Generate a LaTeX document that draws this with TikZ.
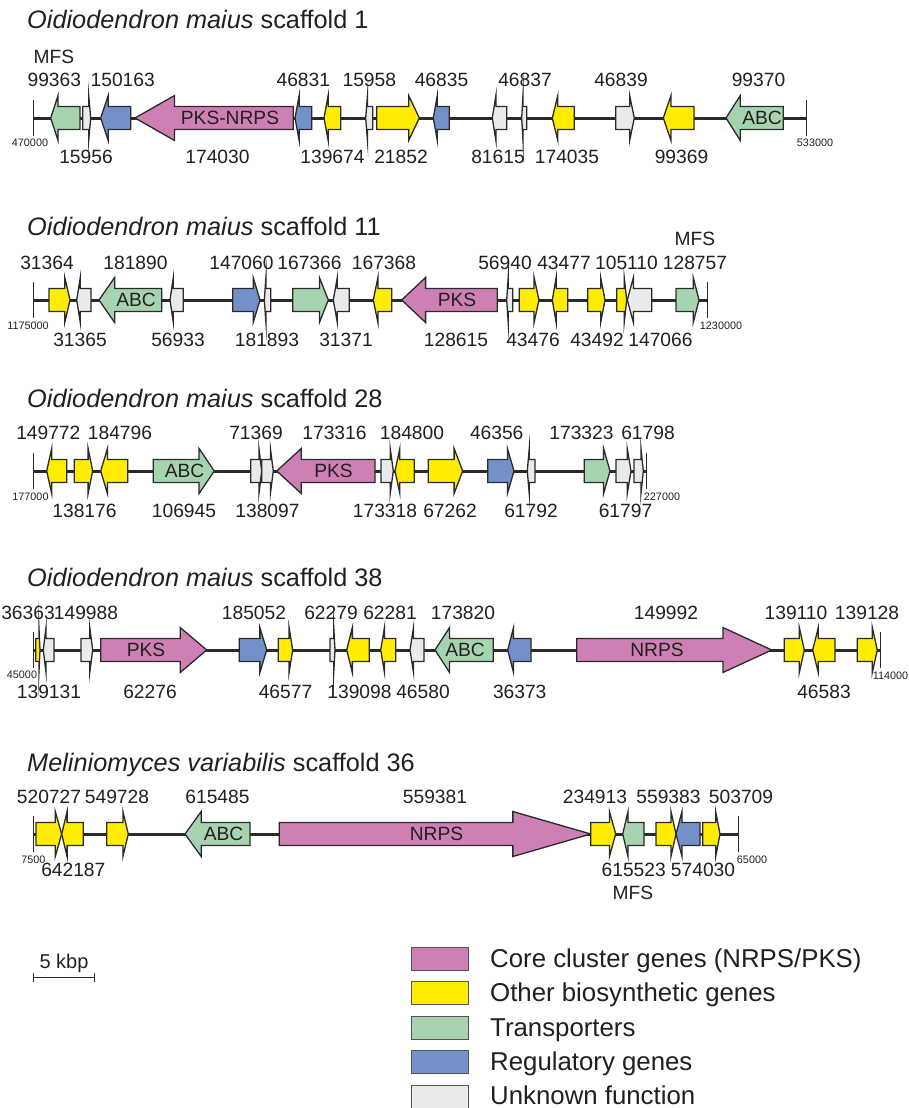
\documentclass[tikz,border=0pt]{standalone}
\usepackage{fontspec}
\setmainfont{Liberation Sans}
\definecolor{core}{HTML}{CE80B5}
\definecolor{bio}{HTML}{FFEC00}
\definecolor{trans}{HTML}{A7D4B0}
\definecolor{reg}{HTML}{7490C8}
\definecolor{unk}{HTML}{E9EAEA}
\definecolor{ink}{HTML}{2A2A2A}
\definecolor{txt}{HTML}{231F20}
\newcount\labn
\newcommand\geneR[4]{\pgfmathsetmacro\hh{0.25*(#3-#2)}\draw[gene,fill=#4] (#2,#1-11.5) -- ({#3-\hh},#1-11.5) -- ({#3-\hh},#1-22.5) -- (#3,#1) -- ({#3-\hh},#1+22.5) -- ({#3-\hh},#1+11.5) -- (#2,#1+11.5) -- cycle;}
\newcommand\geneL[4]{\pgfmathsetmacro\hh{0.25*(#3-#2)}\draw[gene,fill=#4] (#3,#1-11.5) -- ({#2+\hh},#1-11.5) -- ({#2+\hh},#1-22.5) -- (#2,#1) -- ({#2+\hh},#1+22.5) -- ({#2+\hh},#1+11.5) -- (#3,#1+11.5) -- cycle;}
\newcommand\lbl[3]{\global\advance\labn by 1\relax\node[lab] (lab\the\labn) at (#1,#2) {#3};}
\newcommand\crd[3]{\global\advance\labn by 1\relax\node[coordlab] (lab\the\labn) at (#1,#2) {#3};}
\newcommand\backbone[3]{\draw[bb] (#2,#1) -- (#3,#1); \draw[tk] (#2,#1-18) -- (#2,#1+18); \draw[tk] (#3,#1-18) -- (#3,#1+18);}
\tikzset{
  gene/.style={draw=ink, line width=1.3pt, line join=miter, miter limit=100},
  bb/.style={draw=ink, line width=3pt},
  tk/.style={draw=ink, line width=1pt},
  lab/.style={inner sep=0pt, text=txt, font=\fontsize{19.2}{22}\selectfont},
  coordlab/.style={inner sep=0pt, text=txt, font=\fontsize{10.8}{12}\selectfont},
  ttl/.style={inner sep=0pt, anchor=base west, text=txt, font=\fontsize{25.3}{28}\selectfont},
  legtxt/.style={inner sep=0pt, anchor=base west, text=txt, font=\fontsize{25.8}{28}\selectfont},
  legbox/.style={draw=ink!80, line width=1pt},
}
\begin{document}
\begin{tikzpicture}[x=1pt,y=-1pt]
\useasboundingbox (0,0) rectangle (909,1108);
\fill[white] (0,0) rectangle (909,1108);

% ---------------- scaffold 1
\node[ttl] (t1) at (27,29) {\textit{Oidiodendron maius} scaffold 1};
\backbone{118}{33.3}{806}
\geneL{118}{50.7}{80}{trans}
\geneR{118}{82.7}{90.7}{unk}
\geneL{118}{100.7}{130.7}{reg}
\geneL{118}{135}{293.3}{core}
\geneL{118}{295}{311.7}{reg}
\geneL{118}{324}{340.7}{bio}
\geneL{118}{365.7}{372.7}{unk}
\geneR{118}{376.7}{419.3}{bio}
\geneL{118}{433.3}{449.3}{reg}
\geneL{118}{492.3}{506.7}{unk}
\geneL{118}{521.7}{526.7}{unk}
\geneL{118}{552.3}{574.3}{bio}
\geneR{118}{615.7}{634.3}{unk}
\geneL{118}{663.3}{694}{bio}
\geneL{118}{726}{783.3}{trans}
\lbl{230}{118}{PKS-NRPS}
\lbl{762}{118}{ABC}
\lbl{54}{57}{MFS}
\lbl{54.3}{80}{99363}
\lbl{122.7}{80}{150163}
\lbl{303.3}{80}{46831}
\lbl{369.3}{80}{15958}
\lbl{441.5}{80}{46835}
\lbl{525}{80}{46837}
\lbl{621}{80}{46839}
\lbl{758.5}{80}{99370}
\lbl{86}{157}{15956}
\lbl{217.5}{157}{174030}
\lbl{332.5}{157}{139674}
\lbl{401}{157}{21852}
\lbl{498}{157}{81615}
\lbl{567}{157}{174035}
\lbl{681.5}{157}{99369}
\crd{30}{143}{470000}
\crd{815}{143}{533000}

% ---------------- scaffold 11
\node[ttl] (t2) at (27,235) {\textit{Oidiodendron maius} scaffold 11};
\backbone{300}{33.3}{707.3}
\geneR{300}{49}{70}{bio}
\geneL{300}{76.7}{91}{unk}
\geneL{300}{99}{161.7}{trans}
\geneL{300}{170}{183.3}{unk}
\geneR{300}{232.7}{260}{reg}
\geneL{300}{264.3}{270.7}{unk}
\geneR{300}{292.7}{328.3}{trans}
\geneL{300}{333.3}{349.3}{unk}
\geneL{300}{373.3}{391.7}{bio}
\geneL{300}{401.7}{497.3}{core}
\geneL{300}{506.7}{512.7}{unk}
\geneR{300}{519.3}{539}{bio}
\geneL{300}{552.3}{567.7}{bio}
\geneR{300}{587.7}{605}{bio}
\geneR{300}{616.7}{626.7}{bio}
\geneL{300}{627.3}{651.7}{unk}
\geneR{300}{676}{699}{trans}
\lbl{136}{300}{ABC}
\lbl{457}{300}{PKS}
\lbl{695}{239}{MFS}
\lbl{47}{263.3}{31364}
\lbl{135.5}{263.3}{181890}
\lbl{241.5}{263.3}{147060}
\lbl{309.5}{263.3}{167366}
\lbl{384}{263.3}{167368}
\lbl{505}{263.3}{56940}
\lbl{564}{263.3}{43477}
\lbl{626.5}{263.3}{105110}
\lbl{695}{263.3}{128757}
\lbl{80}{340}{31365}
\lbl{178}{340}{56933}
\lbl{267}{340}{181893}
\lbl{346}{340}{31371}
\lbl{456}{340}{128615}
\lbl{533}{340}{43476}
\lbl{597}{340}{43492}
\lbl{660.5}{340}{147066}
\crd{28}{326}{1175000}
\crd{721}{326}{1230000}

% ---------------- scaffold 28
\node[ttl] (t3) at (27,407) {\textit{Oidiodendron maius} scaffold 28};
\backbone{471}{33.3}{646}
\geneL{471}{46.7}{66.7}{bio}
\geneR{471}{74.3}{92.7}{bio}
\geneL{471}{100.7}{127.7}{bio}
\geneR{471}{153.3}{214.3}{trans}
\geneR{471}{250.7}{261.7}{unk}
\geneR{471}{261.7}{273.3}{unk}
\geneL{471}{276.7}{375}{core}
\geneR{471}{381}{393.3}{unk}
\geneL{471}{395}{414.3}{bio}
\geneR{471}{428.3}{462.7}{bio}
\geneR{471}{487.7}{514}{reg}
\geneL{471}{527.3}{535}{unk}
\geneR{471}{584.3}{610}{trans}
\geneR{471}{616}{631}{unk}
\geneR{471}{634}{643.3}{unk}
\lbl{184.5}{471}{ABC}
\lbl{333.5}{471}{PKS}
\lbl{48.3}{433.3}{149772}
\lbl{120}{433.3}{184796}
\lbl{256}{433.3}{71369}
\lbl{334.5}{433.3}{173316}
\lbl{412}{433.3}{184800}
\lbl{496.7}{433.3}{46356}
\lbl{581.5}{433.3}{173323}
\lbl{648}{433.3}{61798}
\lbl{84.5}{510.7}{138176}
\lbl{184}{510.7}{106945}
\lbl{267.5}{510.7}{138097}
\lbl{385}{510.7}{173318}
\lbl{450}{510.7}{67262}
\lbl{531}{510.7}{61792}
\lbl{625.5}{510.7}{61797}
\crd{30.5}{497}{177000}
\crd{662}{497}{227000}

% ---------------- scaffold 38
\node[ttl] (t4) at (27,586) {\textit{Oidiodendron maius} scaffold 38};
\backbone{650}{33.3}{880}
\geneR{650}{35.7}{40}{bio}
\geneL{650}{43.3}{54}{unk}
\geneR{650}{81}{92.7}{unk}
\geneR{650}{100.7}{206.7}{core}
\geneR{650}{239.3}{266.7}{reg}
\geneR{650}{278.3}{292.7}{bio}
\geneR{650}{330}{335}{unk}
\geneL{650}{346.7}{369.3}{bio}
\geneL{650}{380.7}{395.7}{bio}
\geneL{650}{410}{424}{unk}
\geneL{650}{435}{493.3}{trans}
\geneL{650}{507.7}{531}{reg}
\geneR{650}{576.7}{771.7}{core}
\geneR{650}{784.3}{804.3}{bio}
\geneL{650}{812.7}{835}{bio}
\geneR{650}{857.3}{877.3}{bio}
\lbl{146}{650}{PKS}
\lbl{465}{650}{ABC}
\lbl{657}{650}{NRPS}
\lbl{28}{613.3}{36363}
\lbl{86}{613.3}{149988}
\lbl{254}{613.3}{185052}
\lbl{331}{613.3}{62279}
\lbl{390}{613.3}{62281}
\lbl{463}{613.3}{173820}
\lbl{666}{613.3}{149992}
\lbl{796}{613.3}{139110}
\lbl{867}{613.3}{139128}
\lbl{49}{691.7}{139131}
\lbl{150}{691.7}{62276}
\lbl{285.5}{691.7}{46577}
\lbl{359.5}{691.7}{139098}
\lbl{423}{691.7}{46580}
\lbl{519.7}{691.7}{36373}
\lbl{824}{691.7}{46583}
\crd{22}{675}{45000}
\crd{890.5}{676}{114000}

% ---------------- scaffold 36
\node[ttl] (t5) at (27,771) {\textit{Meliniomyces variabilis} scaffold 36};
\backbone{834}{33.3}{738.3}
\geneR{834}{36}{61.7}{bio}
\geneL{834}{61.7}{83.3}{bio}
\geneR{834}{106.7}{128.3}{bio}
\geneL{834}{185}{250}{trans}
\geneR{834}{279.3}{590.7}{core}
\geneR{834}{590.7}{615.7}{bio}
\geneL{834}{622.7}{644}{trans}
\geneR{834}{656}{676}{bio}
\geneL{834}{676}{700}{reg}
\geneR{834}{702.7}{720}{bio}
\lbl{223.5}{834}{ABC}
\lbl{436.5}{834}{NRPS}
\lbl{49}{797.3}{520727}
\lbl{117}{797.3}{549728}
\lbl{217.5}{797.3}{615485}
\lbl{435}{797.3}{559381}
\lbl{595}{797.3}{234913}
\lbl{668.5}{797.3}{559383}
\lbl{741}{797.3}{503709}
\lbl{73.3}{870}{642187}
\lbl{633.7}{870}{615523}
\lbl{703}{870}{574030}
\lbl{633}{893}{MFS}
\crd{33.3}{860}{7500}
\crd{752}{860}{65000}

% ---------------- scale bar
\node[inner sep=0pt, anchor=base, text=txt, font=\fontsize{20}{22}\selectfont] (sc) at (64,968) {5 kbp};
\draw[ink, line width=1pt] (33.7,977.7) -- (94.2,977.7);
\draw[ink, line width=1pt] (33.7,973) -- (33.7,982);
\draw[ink, line width=1pt] (94.2,973) -- (94.2,982);

% ---------------- legend
\draw[legbox, fill=core]  (411.5,947) rectangle (468.5,970);
\draw[legbox, fill=bio]   (411.5,981) rectangle (468.5,1004);
\draw[legbox, fill=trans] (411.5,1016) rectangle (468.5,1039);
\draw[legbox, fill=reg]   (411.5,1050) rectangle (468.5,1073);
\draw[legbox, fill=unk]   (411.5,1085) rectangle (468.5,1112);
\node[legtxt] (lg1) at (490,967.5) {Core cluster genes (NRPS/PKS)};
\node[legtxt] (lg2) at (490,1001.5) {Other biosynthetic genes};
\node[legtxt] (lg3) at (490,1036.5) {Transporters};
\node[legtxt] (lg4) at (490,1070.5) {Regulatory genes};
\node[legtxt] (lg5) at (490,1104) {Unknown function};
\end{tikzpicture}
\end{document}
